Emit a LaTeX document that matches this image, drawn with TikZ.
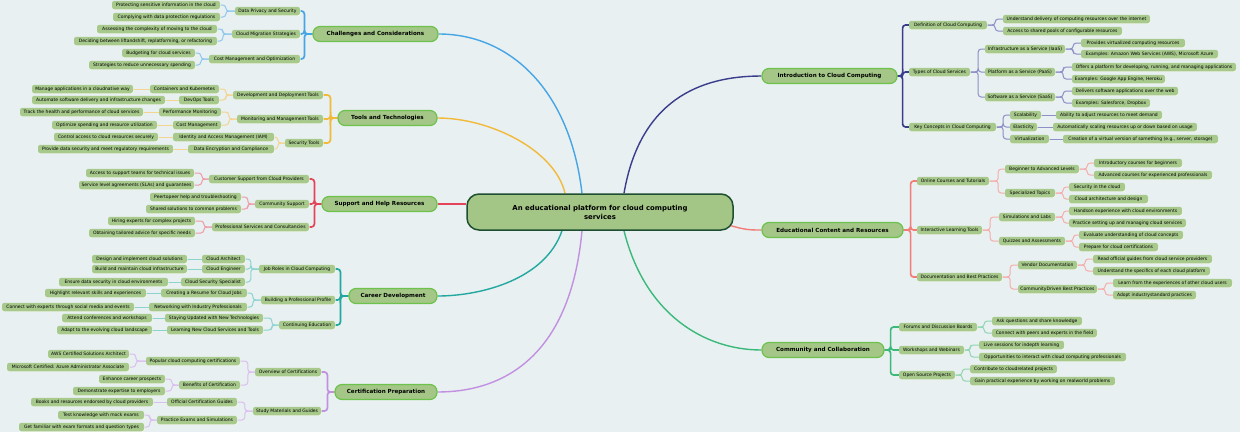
\documentclass[tikz,border=0pt]{standalone}
\usepackage{fontspec}
\setmainfont{DejaVu Sans}
\usetikzlibrary{shadows}
\pgfdeclarelayer{background}
\pgfsetlayers{background,main}
\definecolor{bgc}{HTML}{E8F0F1}
\definecolor{leafc}{HTML}{A7C98C}
\definecolor{leafshadow}{HTML}{F3F8EE}
\definecolor{lonec}{HTML}{A4C788}
\definecolor{loneb}{HTML}{6CC24A}
\definecolor{ctrf}{HTML}{A3C586}
\definecolor{ctrb}{HTML}{1D4F30}
\definecolor{cblue}{HTML}{46A5E5}\definecolor{lblue}{HTML}{8FC7EE}
\definecolor{cyel}{HTML}{F2B93B}\definecolor{lyel}{HTML}{F4D48E}
\definecolor{cred}{HTML}{E4435A}\definecolor{lred}{HTML}{EE9AA8}
\definecolor{cteal}{HTML}{22A89F}\definecolor{lteal}{HTML}{8CD3CF}
\definecolor{cpur}{HTML}{C290E0}\definecolor{lpur}{HTML}{DCBDF0}
\definecolor{cnavy}{HTML}{3A3D8C}\definecolor{lnavy}{HTML}{8D8FC6}
\definecolor{csal}{HTML}{F47C78}\definecolor{lsal}{HTML}{F5ADAB}
\definecolor{cgrn}{HTML}{3BB97A}\definecolor{lgrn}{HTML}{8FD5B1}
\tikzset{
  leaf/.style={fill=leafc, rounded corners=2.5pt, minimum height=8.5pt, inner xsep=1pt, inner ysep=0pt,
    font=\fontsize{4.5}{5}\selectfont, text=black,
    general shadow={fill=leafshadow, shadow xshift=0.7pt, shadow yshift=-0.7pt}},
  lone/.style={fill=lonec, draw=loneb, line width=1.2pt, rounded corners=7pt, minimum height=15pt,
    inner sep=0pt, font=\fontsize{5.6}{6.5}\selectfont\bfseries, text=black},
  ctr/.style={fill=ctrf, draw=ctrb, line width=1.5pt, rounded corners=12pt, align=center,
    font=\fontsize{6.9}{9}\selectfont\bfseries, text=black},
  br/.style={line width=1.7pt, rounded corners=3pt},
  tw/.style={line width=1pt, rounded corners=3pt},
  mc/.style={line width=1.4pt}
}
\newcommand{\leafnode}[5]{\node[leaf, minimum width={#3-#2}] (#1) at ({(#2+#3)/2},#4) {#5};}
\newcommand{\mainnode}[5]{\node[lone, minimum width={#3-#2}] (#1) at ({(#2+#3)/2},#4) {#5};}
\newcommand{\lconn}[4]{\foreach \q in {#4} {\draw[#1] (#2.west) -- ++(-#3,0) |- (\q.east);}}
\newcommand{\rconn}[4]{\foreach \q in {#4} {\draw[#1] (#2.east) -- ++(#3,0) |- (\q.west);}}
\begin{document}
\begin{tikzpicture}[x=1pt,y=-1pt]
\useasboundingbox (0,0) rectangle (1240,432);
% center
\node[ctr, minimum width=266pt, minimum height=36pt] (c) at (600,212) {An educational platform for cloud computing\\services};
% ---------- left: Challenges
\mainnode{ch}{313}{438}{34}{Challenges and Considerations}
\leafnode{dps}{235}{300}{11}{Data Privacy and Security}
\leafnode{cms}{232}{300}{34}{Cloud Migration Strategies}
\leafnode{cmo}{209}{300}{59}{Cost Management and Optimization}
\leafnode{dpsa}{112}{220}{5}{Protecting sensitive information in the cloud}
\leafnode{dpsb}{113}{220}{17}{Complying with data protection regulations}
\leafnode{cmsa}{97}{217}{29}{Assessing the complexity of moving to the cloud}
\leafnode{cmsb}{74}{217}{41}{Deciding between liftandshift, replatforming, or refactoring}
\leafnode{cmoa}{122}{195}{53}{Budgeting for cloud services}
\leafnode{cmob}{89}{195}{65}{Strategies to reduce unnecessary spending}
% Tools
\mainnode{tt}{338}{437}{118}{Tools and Technologies}
\leafnode{ddt}{233}{323}{95}{Development and Deployment Tools}
\leafnode{mmt}{237}{323}{119}{Monitoring and Management Tools}
\leafnode{st}{285}{323}{143}{Security Tools}
\leafnode{cak}{150}{219}{89}{Containers and Kubernetes}
\leafnode{dot}{179}{219}{100}{DevOps Tools}
\leafnode{caka}{32}{133}{89}{Manage applications in a cloudnative way}
\leafnode{dota}{32}{165}{100}{Automate software delivery and infrastructure changes}
\leafnode{pm}{159}{221}{112}{Performance Monitoring}
\leafnode{cm}{173}{221}{125}{Cost Management}
\leafnode{pma}{20}{143}{112}{Track the health and performance of cloud services}
\leafnode{cma}{52}{157}{125}{Optimize spending and resource utilization}
\leafnode{iam}{173}{274}{137}{Identity and Access Management (IAM)}
\leafnode{dec}{188}{274}{149}{Data Encryption and Compliance}
\leafnode{iama}{54}{158}{137}{Control access to cloud resources securely}
\leafnode{deca}{38}{173}{149}{Provide data security and meet regulatory requirements}
% Support
\mainnode{sh}{322}{437}{204}{Support and Help Resources}
\leafnode{csp}{209}{309}{179}{Customer Support from Cloud Providers}
\leafnode{cs}{255}{309}{204}{Community Support}
\leafnode{psc}{212}{309}{227}{Professional Services and Consultancies}
\leafnode{cspa}{86}{194}{173}{Access to support teams for technical issues}
\leafnode{cspb}{79}{194}{185}{Service level agreements (SLAs) and guarantees}
\leafnode{csa}{150}{241}{197}{Peertopeer help and troubleshooting}
\leafnode{csb}{146}{241}{209}{Shared solutions to common problems}
\leafnode{psca}{108}{195}{221}{Hiring experts for complex projects}
\leafnode{pscb}{89}{195}{233}{Obtaining tailored advice for specific needs}
% Career
\mainnode{cd}{349}{437}{296}{Career Development}
\leafnode{jr}{259}{335}{269}{Job Roles in Cloud Computing}
\leafnode{bpp}{261}{335}{300}{Building a Professional Profile}
\leafnode{ce}{279}{335}{325}{Continuing Education}
\leafnode{ca}{202}{245}{259}{Cloud Architect}
\leafnode{ceng}{202}{245}{269}{Cloud Engineer}
\leafnode{css}{181}{245}{282}{Cloud Security Specialist}
\leafnode{caa}{92}{187}{259}{Design and implement cloud solutions}
\leafnode{cenga}{92}{187}{269}{Build and maintain cloud infrastructure}
\leafnode{cssa}{59}{168}{282}{Ensure data security in cloud environments}
\leafnode{crc}{161}{247}{293}{Creating a Resume for Cloud Jobs}
\leafnode{nip}{149}{247}{307}{Networking with Industry Professionals}
\leafnode{crca}{45}{146}{293}{Highlight relevant skills and experiences}
\leafnode{nipa}{2}{134}{307}{Connect with experts through social media and events}
\leafnode{sun}{165}{263}{318}{Staying Updated with New Technologies}
\leafnode{lnc}{167}{263}{330}{Learning New Cloud Services and Tools}
\leafnode{suna}{62}{152}{318}{Attend conferences and workshops}
\leafnode{lnca}{57}{152}{330}{Adapt to the evolving cloud landscape}
% Certification
\mainnode{cp}{335}{437}{392}{Certification Preparation}
\leafnode{oc}{255}{321}{372}{Overview of Certifications}
\leafnode{smg}{253}{321}{411}{Study Materials and Guides}
\leafnode{pcc}{146}{240}{361}{Popular cloud computing certifications}
\leafnode{boc}{179}{240}{385}{Benefits of Certification}
\leafnode{pcca}{48}{129}{354}{AWS Certified Solutions Architect}
\leafnode{pccb}{7}{129}{367}{Microsoft Certified: Azure Administrator Associate}
\leafnode{boca}{99}{165}{379}{Enhance career prospects}
\leafnode{bocb}{73}{165}{391}{Demonstrate expertise to employers}
\leafnode{ocg}{167}{237}{402}{Official Certification Guides}
\leafnode{pes}{157}{237}{420}{Practice Exams and Simulations}
\leafnode{ocga}{31}{153}{402}{Books and resources endorsed by cloud providers}
\leafnode{pesa}{58}{144}{415}{Test knowledge with mock exams}
\leafnode{pesb}{19}{144}{427}{Get familiar with exam formats and question types}
% ---------- right: Introduction
\mainnode{ic}{762}{897}{76}{Introduction to Cloud Computing}
\leafnode{dcc}{909}{987}{25}{Definition of Cloud Computing}
\leafnode{tcs}{909}{970}{72}{Types of Cloud Services}
\leafnode{kcc}{909}{996}{127}{Key Concepts in Cloud Computing}
\leafnode{dcca}{1003}{1150}{19}{Understand delivery of computing resources over the internet}
\leafnode{dccb}{1003}{1122}{31}{Access to shared pools of configurable resources}
\leafnode{iaas}{985}{1065}{49}{Infrastructure as a Service (IaaS)}
\leafnode{paas}{985}{1055}{72}{Platform as a Service (PaaS)}
\leafnode{saas}{985}{1055}{97}{Software as a Service (SaaS)}
\leafnode{iaasa}{1081}{1185}{43}{Provides virtualized computing resources}
\leafnode{iaasb}{1081}{1218}{54}{Examples: Amazon Web Services (AWS), Microsoft Azure}
\leafnode{paasa}{1072}{1236}{67}{Offers a platform for developing, running, and managing applications}
\leafnode{paasb}{1072}{1165}{79}{Examples: Google App Engine, Heroku}
\leafnode{saasa}{1072}{1178}{91}{Delivers software applications over the web}
\leafnode{saasb}{1072}{1150}{103}{Examples: Salesforce, Dropbox}
\leafnode{sca}{1010}{1041}{115}{Scalability}
\leafnode{ela}{1010}{1037}{127}{Elasticity}
\leafnode{vir}{1010}{1049}{139}{Virtualization}
\leafnode{scaa}{1056}{1162}{115}{Ability to adjust resources to meet demand}
\leafnode{elaa}{1053}{1197}{127}{Automatically scaling resources up or down based on usage}
\leafnode{vira}{1063}{1218}{139}{Creation of a virtual version of something (e.g., server, storage)}
% Educational
\mainnode{ec}{762}{903}{230}{Educational Content and Resources}
\leafnode{oct}{917}{989}{181}{Online Courses and Tutorials}
\leafnode{ilt}{917}{982}{230}{Interactive Learning Tools}
\leafnode{dbp}{917}{1002}{277}{Documentation and Best Practices}
\leafnode{bal}{1005}{1079}{169}{Beginner to Advanced Levels}
\leafnode{spt}{1005}{1055}{193}{Specialized Topics}
\leafnode{bala}{1094}{1182}{163}{Introductory courses for beginners}
\leafnode{balb}{1094}{1212}{175}{Advanced courses for experienced professionals}
\leafnode{spta}{1069}{1125}{187}{Security in the cloud}
\leafnode{sptb}{1069}{1148}{199}{Cloud architecture and design}
\leafnode{sal}{999}{1055}{217}{Simulations and Labs}
\leafnode{qa}{999}{1065}{241}{Quizzes and Assessments}
\leafnode{sala}{1069}{1182}{211}{Handson experience with cloud environments}
\leafnode{salb}{1069}{1186}{223}{Practice setting up and managing cloud services}
\leafnode{qaa}{1079}{1183}{235}{Evaluate understanding of cloud concepts}
\leafnode{qab}{1079}{1158}{247}{Prepare for cloud certifications}
\leafnode{vd}{1018}{1077}{265}{Vendor Documentation}
\leafnode{cdbp}{1018}{1097}{289}{CommunityDriven Best Practices}
\leafnode{vda}{1093}{1212}{259}{Read official guides from cloud service providers}
\leafnode{vdb}{1093}{1210}{271}{Understand the specifics of each cloud platform}
\leafnode{cdbpa}{1113}{1232}{283}{Learn from the experiences of other cloud users}
\leafnode{cdbpb}{1113}{1196}{295}{Adopt industrystandard practices}
% Community
\mainnode{cc}{762}{884}{350}{Community and Collaboration}
\leafnode{fdb}{899}{977}{327}{Forums and Discussion Boards}
\leafnode{ww}{899}{964}{350}{Workshops and Webinars}
\leafnode{osp}{899}{955}{375}{Open Source Projects}
\leafnode{fdba}{992}{1082}{321}{Ask questions and share knowledge}
\leafnode{fdbb}{992}{1097}{333}{Connect with peers and experts in the field}
\leafnode{wwa}{979}{1064}{345}{Live sessions for indepth learning}
\leafnode{wwb}{979}{1126}{357}{Opportunities to interact with cloud computing professionals}
\leafnode{ospa}{970}{1057}{369}{Contribute to cloudrelated projects}
\leafnode{ospb}{970}{1115}{381}{Gain practical experience by working on realworld problems}
% ---------- connectors
\begin{pgfonlayer}{background}
\fill[bgc] (0,0) rectangle (1240,432);
\draw[mc,cblue] ([xshift=-18pt]c.north) .. controls (570,90) and (510,34) .. (ch.east);
\draw[mc,cyel] ([xshift=-35pt]c.north) .. controls (555,150) and (490,118) .. (tt.east);
\draw[mc,cred] ([yshift=8pt]c.west) -- (sh.east);
\draw[mc,cteal] ([xshift=-38pt]c.south) .. controls (545,280) and (480,296) .. (cd.east);
\draw[mc,cpur] ([xshift=-18pt]c.south) .. controls (570,360) and (500,392) .. (cp.east);
\draw[mc,cnavy] ([xshift=24pt]c.north) .. controls (640,100) and (700,76) .. (ic.west);
\draw[mc,csal] ([xshift=-5pt,yshift=-13pt]c.east) .. controls (745,230) and (750,230) .. (ec.west);
\draw[mc,cgrn] ([xshift=24pt]c.south) .. controls (645,315) and (705,350) .. (cc.west);
% left
\lconn{br,cblue}{ch}{8}{dps,cms,cmo}
\lconn{tw,lblue}{dps}{9}{dpsa,dpsb}
\lconn{tw,lblue}{cms}{9}{cmsa,cmsb}
\lconn{tw,lblue}{cmo}{8}{cmoa,cmob}
\lconn{br,cyel}{tt}{7}{ddt,mmt,st}
\lconn{tw,lyel}{ddt}{7}{cak,dot}
\draw[tw,lyel] (cak.west) -- (caka.east);
\draw[tw,lyel] (dot.west) -- (dota.east);
\lconn{tw,lyel}{mmt}{8}{pm,cm}
\draw[tw,lyel] (pm.west) -- (pma.east);
\draw[tw,lyel] (cm.west) -- (cma.east);
\lconn{tw,lyel}{st}{7}{iam,dec}
\draw[tw,lyel] (iam.west) -- (iama.east);
\draw[tw,lyel] (dec.west) -- (deca.east);
\lconn{br,cred}{sh}{7}{csp,cs,psc}
\lconn{tw,lred}{csp}{7}{cspa,cspb}
\lconn{tw,lred}{cs}{7}{csa,csb}
\lconn{tw,lred}{psc}{8}{psca,pscb}
\lconn{br,cteal}{cd}{8}{jr,bpp,ce}
\lconn{tw,lteal}{jr}{8}{ca,ceng,css}
\draw[tw,lteal] (ca.west) -- (caa.east);
\draw[tw,lteal] (ceng.west) -- (cenga.east);
\draw[tw,lteal] (css.west) -- (cssa.east);
\lconn{tw,lteal}{bpp}{8}{crc,nip}
\draw[tw,lteal] (crc.west) -- (crca.east);
\draw[tw,lteal] (nip.west) -- (nipa.east);
\lconn{tw,lteal}{ce}{7}{sun,lnc}
\draw[tw,lteal] (sun.west) -- (suna.east);
\draw[tw,lteal] (lnc.west) -- (lnca.east);
\lconn{br,cpur}{cp}{7}{oc,smg}
\lconn{tw,lpur}{oc}{7}{pcc,boc}
\lconn{tw,lpur}{pcc}{10}{pcca,pccb}
\lconn{tw,lpur}{boc}{7}{boca,bocb}
\lconn{tw,lpur}{smg}{8}{ocg,pes}
\draw[tw,lpur] (ocg.west) -- (ocga.east);
\lconn{tw,lpur}{pes}{7}{pesa,pesb}
% right
\rconn{br,cnavy}{ic}{5}{dcc,tcs,kcc}
\rconn{tw,lnavy}{dcc}{8}{dcca,dccb}
\rconn{tw,lnavy}{tcs}{8}{iaas,paas,saas}
\rconn{tw,lnavy}{iaas}{8}{iaasa,iaasb}
\rconn{tw,lnavy}{paas}{8}{paasa,paasb}
\rconn{tw,lnavy}{saas}{8}{saasa,saasb}
\rconn{tw,lnavy}{kcc}{7}{sca,ela,vir}
\draw[tw,lnavy] (sca.east) -- (scaa.west);
\draw[tw,lnavy] (ela.east) -- (elaa.west);
\draw[tw,lnavy] (vir.east) -- (vira.west);
\rconn{br,csal}{ec}{7}{oct,ilt,dbp}
\rconn{tw,lsal}{oct}{9}{bal,spt}
\rconn{tw,lsal}{bal}{8}{bala,balb}
\rconn{tw,lsal}{spt}{8}{spta,sptb}
\rconn{tw,lsal}{ilt}{8}{sal,qa}
\rconn{tw,lsal}{sal}{8}{sala,salb}
\rconn{tw,lsal}{qa}{8}{qaa,qab}
\rconn{tw,lsal}{dbp}{8}{vd,cdbp}
\rconn{tw,lsal}{vd}{8}{vda,vdb}
\rconn{tw,lsal}{cdbp}{8}{cdbpa,cdbpb}
\rconn{br,cgrn}{cc}{6}{fdb,ww,osp}
\rconn{tw,lgrn}{fdb}{7}{fdba,fdbb}
\rconn{tw,lgrn}{ww}{6}{wwa,wwb}
\rconn{tw,lgrn}{osp}{7}{ospa,ospb}
\end{pgfonlayer}
\end{tikzpicture}
\end{document}
